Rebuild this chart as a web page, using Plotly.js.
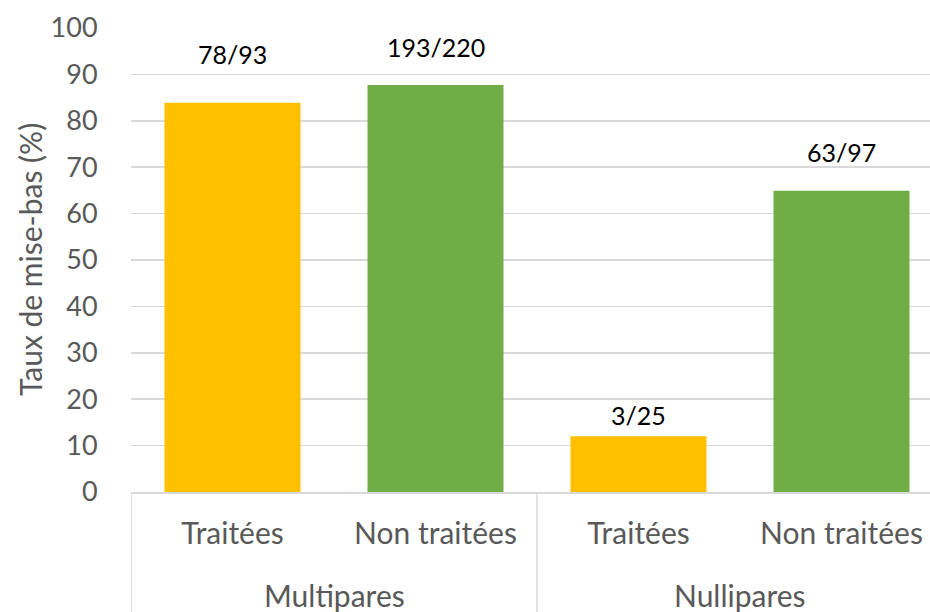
<!DOCTYPE html>
<html>
<head>
<meta charset="utf-8">
<script src="https://cdn.plot.ly/plotly-3.0.1.min.js"></script>
<style>html,body{margin:0;padding:0;background:#fff;}#chart{width:930px;height:612px;}</style>
</head>
<body>
<div id="chart"></div>
<script>
const groups = ['Multipares', 'Multipares', 'Nullipares', 'Nullipares'];
const categories = ['Traitées', 'Non traitées', 'Traitées', 'Non traitées'];
const values = [83.9, 87.7, 12.0, 64.9];
const labels = ['78/93', '193/220', '3/25', '63/97'];
const yTicks = [0, 10, 20, 30, 40, 50, 60, 70, 80, 90, 100];
const yTitle = 'Taux de mise-bas (%)';

const barColors = ['#FFC000', '#70AD47', '#FFC000', '#70AD47'];
const labelShift = [46, 35, 18, 36];
const FONT = 'Lato, sans-serif';
const GREY = '#595959';
const LINE = '#D9D9D9';

const idx = categories.map((_, i) => i);

const trace = {
  type: 'bar',
  x: idx,
  y: values,
  width: 0.67,
  marker: {color: barColors},
  hoverinfo: 'none'
};

const annotations = values.map((v, i) => ({
  x: i, y: v, xref: 'x', yref: 'y',
  text: labels[i], showarrow: false,
  yanchor: 'bottom', yshift: labelShift[i] - 14,
  font: {family: FONT, size: 25, color: '#000000'}
}));

// y-axis title as rotated annotation
annotations.push({
  x: -0.1264, y: 0.5, xref: 'paper', yref: 'paper',
  text: yTitle, showarrow: false, textangle: -90,
  xanchor: 'center', yanchor: 'middle',
  font: {family: FONT, size: 30, color: GREY}
});

// group labels and dividers
const groupNames = [...new Set(groups)];
const shapes = [];
groupNames.forEach(g => {
  const members = idx.filter(i => groups[i] === g);
  const first = members[0], last = members[members.length - 1];
  annotations.push({
    x: (first + last) / 2, y: -0.222, xref: 'x', yref: 'paper',
    text: g, showarrow: false, yanchor: 'middle',
    font: {family: FONT, size: 30, color: GREY}
  });
  [first - 0.5, last + 0.5].forEach(b => {
    if (!shapes.some(s => s.x0 === b)) {
      shapes.push({type: 'line', xref: 'x', yref: 'paper',
        x0: b, x1: b, y0: 0, y1: -0.26,
        line: {color: LINE, width: 1.5}});
    }
  });
});

const layout = {
  width: 930, height: 612,
  margin: {l: 131, r: 0, t: 28, b: 120},
  paper_bgcolor: '#ffffff', plot_bgcolor: '#ffffff',
  showlegend: false,
  font: {family: FONT, color: GREY},
  xaxis: {
    type: 'linear',
    range: [-0.5, 3.436],
    tickvals: idx, ticktext: categories,
    showline: true, linecolor: LINE, linewidth: 1.5,
    ticks: 'outside', ticklen: 14, tickcolor: 'rgba(0,0,0,0)',
    showgrid: false, zeroline: false,
    tickfont: {family: FONT, size: 30, color: GREY}
  },
  yaxis: {
    range: [0, 100],
    tickvals: yTicks,
    ticktext: yTicks.map(String),
    showgrid: true, gridcolor: LINE, gridwidth: 1.5,
    zeroline: false, showline: false,
    ticks: 'outside', ticklen: 27, tickcolor: 'rgba(0,0,0,0)',
    tickfont: {family: FONT, size: 27, color: GREY}
  },
  shapes: shapes,
  annotations: annotations
};

Plotly.newPlot('chart', [trace], layout, {displayModeBar: false, staticPlot: true});
</script>
</body>
</html>
